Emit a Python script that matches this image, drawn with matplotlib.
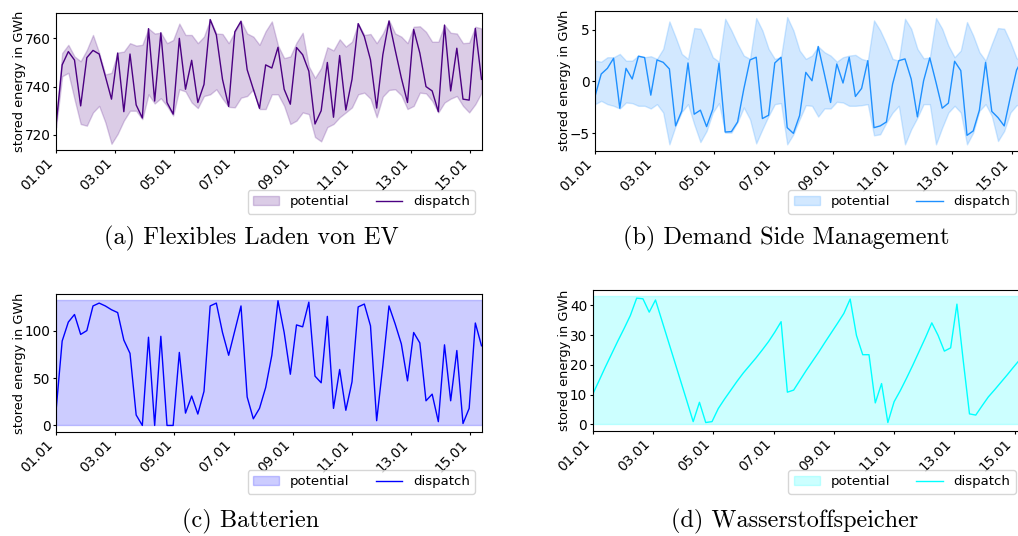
import matplotlib
matplotlib.use("Agg")
import matplotlib.pyplot as plt
import pandas as pd

# ---------------- data ----------------
start = "2019-01-01 00:00"
n_steps = 70
step = "5h"

tick_labels = ["01.01", "03.01", "05.01", "07.01", "09.01", "11.01", "13.01", "15.01"]

ev_dispatch = [723.8, 749.0, 754.5, 751.0, 732.0, 752.0, 755.0, 753.5, 744.3, 734.8,
               753.9, 729.6, 753.5, 732.4, 727.0, 764.0, 734.0, 762.3, 733.4, 728.6,
               760.0, 738.9, 750.9, 733.4, 740.9, 767.8, 761.4, 743.0, 731.8, 762.7,
               767.1, 747.0, 738.9, 731.0, 749.0, 747.7, 756.3, 738.9, 732.7, 756.2,
               753.2, 746.4, 724.5, 730.0, 750.0, 727.3, 752.9, 730.3, 743.0, 766.1,
               760.7, 751.1, 731.1, 753.2, 767.2, 755.2, 743.6, 733.4, 763.7, 753.9,
               740.0, 738.2, 729.6, 765.5, 738.2, 755.9, 734.8, 734.4, 764.1, 743.0]
ev_upper = [724.5, 753.9, 757.3, 752.5, 750.5, 755.2, 761.4, 754.0, 745.0, 745.7,
            754.1, 754.5, 758.0, 757.0, 757.3, 764.1, 762.0, 762.3, 758.0, 759.3,
            766.1, 761.4, 761.4, 758.0, 760.7, 767.8, 762.0, 761.8, 758.0, 762.7,
            767.1, 762.0, 760.7, 757.3, 763.0, 767.0, 757.0, 751.8, 752.5, 758.2,
            762.3, 748.4, 743.6, 747.7, 756.3, 755.0, 759.6, 756.6, 758.6, 766.1,
            761.4, 761.8, 758.0, 762.0, 767.5, 762.0, 760.7, 758.0, 764.8, 765.0,
            762.7, 758.6, 758.6, 765.5, 762.3, 762.0, 758.0, 758.2, 764.8, 764.1]
ev_lower = [723.0, 744.3, 745.7, 734.8, 724.5, 723.8, 729.3, 732.0, 725.2, 716.3,
            720.4, 725.9, 730.0, 730.0, 726.5, 736.8, 733.0, 735.2, 732.0, 728.0,
            738.9, 738.0, 733.4, 731.1, 736.1, 736.8, 738.9, 735.0, 731.6, 731.4,
            735.4, 736.1, 738.9, 730.7, 730.7, 736.8, 736.8, 732.0, 724.5, 725.9,
            729.3, 728.6, 719.1, 717.3, 723.2, 724.5, 727.3, 729.3, 731.4, 736.8,
            737.5, 735.0, 727.3, 735.9, 738.6, 738.9, 736.4, 730.7, 732.0, 737.5,
            737.2, 734.1, 729.3, 733.4, 735.0, 736.1, 732.0, 729.3, 732.7, 737.5]

dsm_dispatch = [-1.46, 0.71, 1.26, 2.23, -2.59, 1.26, 0.23, 2.43, 2.30, -1.33,
                2.07, 1.84, 1.20, -4.30, -2.85, 1.78, -3.17, -2.78, -4.37, -2.69,
                1.75, -4.89, -4.85, -3.92, -0.74, 2.07, 2.33, -3.59, -3.27, 1.78,
                2.33, -4.47, -5.02, -3.30, 0.87, 0.06, 3.37, 0.70, -2.04, 1.68,
                -0.16, 2.33, -1.46, -0.68, 2.00, -4.47, -4.30, -3.92, -0.26, 2.00,
                2.17, 0.23, -3.43, 0.06, 2.27, -0.10, -2.59, -2.10, 1.94, 1.04,
                -5.21, -4.79, -2.78, 1.84, -2.90, -3.50, -4.30, -1.50, 1.10, 2.20]
dsm_upper = [2.00, 1.90, 2.33, 2.33, 2.65, 2.00, 2.00, 2.49, 2.33, 2.43,
             2.17, 3.14, 5.79, 4.27, 2.65, 2.17, 5.15, 5.08, 3.79, 2.33,
             1.90, 6.05, 4.92, 3.62, 2.49, 2.17, 6.12, 4.92, 3.14, 2.17,
             2.33, 6.21, 4.92, 2.98, 2.17, 2.49, 3.37, 2.82, 2.49, 1.90,
             2.33, 2.49, 2.56, 2.17, 2.00, 5.89, 4.92, 3.62, 2.17, 2.00,
             6.05, 5.08, 3.14, 2.23, 2.30, 6.12, 5.08, 3.46, 2.33, 2.98,
             5.73, 4.43, 2.82, 2.00, 3.62, 5.15, 5.08, 3.79, 2.23, 2.10]
dsm_lower = [-2.20, -1.88, -2.20, -2.36, -2.62, -2.04, -2.10, -2.36, -2.36, -2.62,
             -2.20, -3.01, -6.08, -4.30, -2.95, -2.20, -4.14, -5.86, -4.79, -3.01,
             -2.10, -4.95, -4.95, -3.92, -2.52, -3.66, -5.99, -4.63, -3.33, -2.20,
             -2.10, -6.08, -5.11, -3.66, -2.30, -2.36, -3.40, -2.62, -2.62, -1.97,
             -2.04, -2.36, -2.36, -2.30, -2.20, -5.21, -5.11, -3.98, -3.01, -2.36,
             -6.08, -4.63, -3.50, -2.20, -2.20, -6.08, -4.47, -3.01, -2.36, -3.01,
             -6.08, -4.95, -2.85, -2.20, -3.33, -5.76, -4.79, -3.01, -2.30, -2.20]

bat_dispatch = [15, 89, 109, 117, 96, 100, 126, 129, 126, 122,
                119, 90, 76, 11, 0, 93, 0, 94, 0, 0,
                77, 13, 31, 12, 36, 126, 129, 98, 74, 100,
                126, 30, 7, 18, 40, 74, 131.5, 98, 54, 106,
                104, 130, 52, 45, 115, 18, 59, 16, 46, 125,
                128, 105, 5, 63, 126, 107, 86, 47, 98, 87,
                26, 33, 4, 85, 26, 79, 2, 18, 108, 84]
bat_capacity = 132.0

h2_dispatch = [10.1, 14.6, 19.2, 23.6, 28.0, 32.2, 36.6, 42.4, 42.2, 37.7,
               41.8, 35.0, 28.2, 21.4, 14.6, 7.8, 0.9, 7.4, 0.6, 0.9,
               5.3, 8.5, 11.5, 14.5, 17.3, 19.8, 22.3, 25.0, 27.8, 31.0,
               34.5, 10.8, 11.5, 14.8, 18.1, 21.2, 24.3, 27.6, 30.8, 34.0,
               37.3, 42.1, 29.9, 23.4, 23.4, 7.2, 13.7, 0.6, 7.6, 11.4,
               15.6, 20.0, 24.6, 29.2, 34.1, 29.9, 24.6, 25.7, 40.4, 21.5,
               3.5, 3.1, 6.2, 9.2, 11.6, 14.1, 16.6, 19.2, 21.7, 24.2]
h2_capacity = 43.0

captions = ["(a) Flexibles Laden von EV", "(b) Demand Side Management",
            "(c) Batterien", "(d) Wasserstoffspeicher"]
colors = ["indigo", "dodgerblue", "blue", "cyan"]
yticks = [[720, 740, 760], [-5, 0, 5], [0, 50, 100], [0, 10, 20, 30, 40]]

# ---------------- figure ----------------
W, H = 1018, 536
fig = plt.figure(figsize=(W / 100, H / 100), dpi=100)
plt.rcParams["font.family"] = ["DejaVu Sans"]

FS_TICK = 9.8
FS_LAB = 9.3
FS_LEG = 9.5
FS_CAP = 17.5

def px_axes(left, top, right, bottom):
    return fig.add_axes([left / W, 1 - bottom / H, (right - left) / W, (bottom - top) / H])

times = pd.date_range(start, periods=n_steps, freq=step)
tick_pos = [pd.Timestamp(f"2019-{lab[3:5]}-{lab[0:2]}") for lab in tick_labels]

boxes = [(56, 13.3, 481.5, 150), (595, 10.7, 1022.8, 150.7),
         (56, 294, 481.5, 431.7), (592.7, 290, 1026, 430.7)]
legend_anchor = [(475, 190), (1015.5, 190), (475, 470), (1015.5, 470)]
caption_pos = [(251, 238), (786.5, 238), (251, 521), (795, 521)]

series = [
    (ev_lower, ev_upper, ev_dispatch),
    (dsm_lower, dsm_upper, dsm_dispatch),
    ([0.0] * n_steps, [bat_capacity] * n_steps, bat_dispatch),
    ([0.0] * n_steps, [h2_capacity] * n_steps, h2_dispatch),
]

for k in range(4):
    ax = px_axes(*boxes[k])
    lo, hi, disp = series[k]
    ax.fill_between(times, lo, hi, color=colors[k], alpha=0.2, label="potential")
    ax.plot(times, disp, color=colors[k], lw=1.0, label="dispatch")
    ax.set_xlim(times[0], times[-1])
    ax.set_xticks(tick_pos)
    ax.set_xticklabels(tick_labels, rotation=45, ha="right", fontsize=FS_TICK)
    ax.set_yticks(yticks[k])
    ax.tick_params(axis="both", labelsize=FS_TICK, length=2.5, pad=1.5)
    ax.set_ylabel("stored energy in GWh", fontsize=FS_LAB, labelpad=-1)
    ax.legend(loc="upper right", ncol=2, fontsize=FS_LEG,
              bbox_to_anchor=(legend_anchor[k][0] / W, 1 - legend_anchor[k][1] / H),
              bbox_transform=fig.transFigure, borderaxespad=0)
    fig.text(caption_pos[k][0] / W, 1 - caption_pos[k][1] / H, captions[k],
             family="cmr10", fontsize=FS_CAP, ha="center", va="center")

fig.savefig("out.png", dpi=100)
